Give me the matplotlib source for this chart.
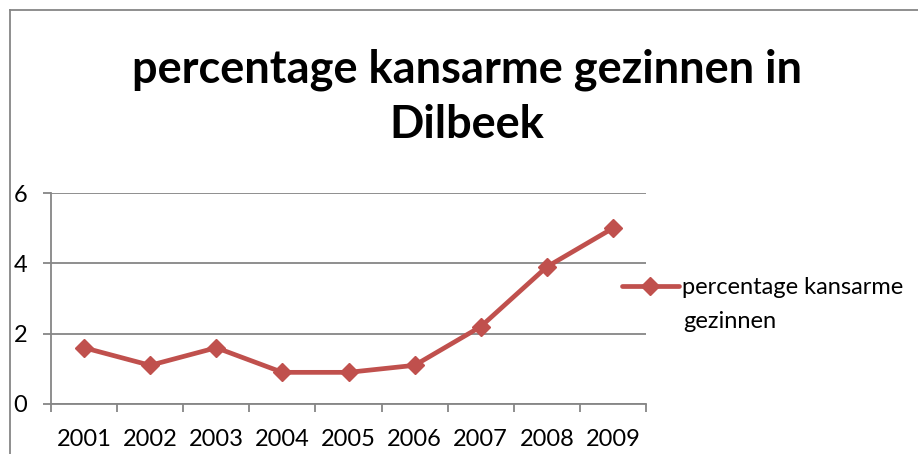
import matplotlib.pyplot as plt
from matplotlib.lines import Line2D

years = ['2001', '2002', '2003', '2004', '2005', '2006', '2007', '2008', '2009']
values = [1.6, 1.1, 1.6, 0.9, 0.9, 1.1, 2.2, 3.9, 5.0]
series_name = ['percentage kansarme', 'gezinnen']
title = 'percentage kansarme gezinnen in\nDilbeek'

plt.rcParams['font.family'] = ['Lato', 'DejaVu Sans']
red = '#C0504D'
grey = '#868686'

fig = plt.figure(figsize=(9.18, 4.54), dpi=100)
ax = fig.add_axes([51/918, 1-404/454, (646-51)/918, (404-193)/454])

x = list(range(1, len(years) + 1))
ax.plot(x, values, color=red, lw=3.4, marker='D', ms=9, mfc=red, mec=red,
        solid_capstyle='round', label=series_name[0])

ax.set_xlim(0.5, len(years) + 0.5)
ax.set_ylim(0, 6)
ax.set_yticks([0, 2, 4, 6])
ax.set_xticks([i + 0.5 for i in range(0, len(years) + 1)])
ax.set_xticklabels([])
ax.set_xticks(x, minor=True)
ax.set_xticklabels(years, minor=True)
ax.tick_params(axis='x', which='minor', length=0, labelsize=17, pad=18)
ax.tick_params(axis='x', which='major', length=6, color=grey, width=1.3)
ax.tick_params(axis='y', length=6, color=grey, width=1.3, labelsize=17, pad=11)
ax.grid(axis='y', color=grey, lw=1.3)
for s in ['top', 'right']:
    ax.spines[s].set_visible(False)
for s in ['left', 'bottom']:
    ax.spines[s].set_color(grey)
    ax.spines[s].set_linewidth(1.3)

# chart border (cut off on right/bottom)
fig.add_artist(Line2D([9.5/918, 9.5/918], [0, 1-9.5/454], transform=fig.transFigure, color=grey, lw=1.3))
fig.add_artist(Line2D([9.5/918, 1], [1-9.5/454, 1-9.5/454], transform=fig.transFigure, color=grey, lw=1.3))

fig.text(467/918, 1-97/454, title, ha='center', va='center', fontsize=32.5,
         fontweight='bold', linespacing=1.38)

ax.legend(loc='center left', bbox_to_anchor=(622/918, 1-288/454), bbox_transform=fig.transFigure,
          frameon=False, fontsize=17, handlelength=2.4, handletextpad=0.15,
          borderpad=0, borderaxespad=0)
fig.text(683/918, 1-322/454, series_name[1], ha='left', va='center', fontsize=17)

fig.savefig('out.png', dpi=100)
